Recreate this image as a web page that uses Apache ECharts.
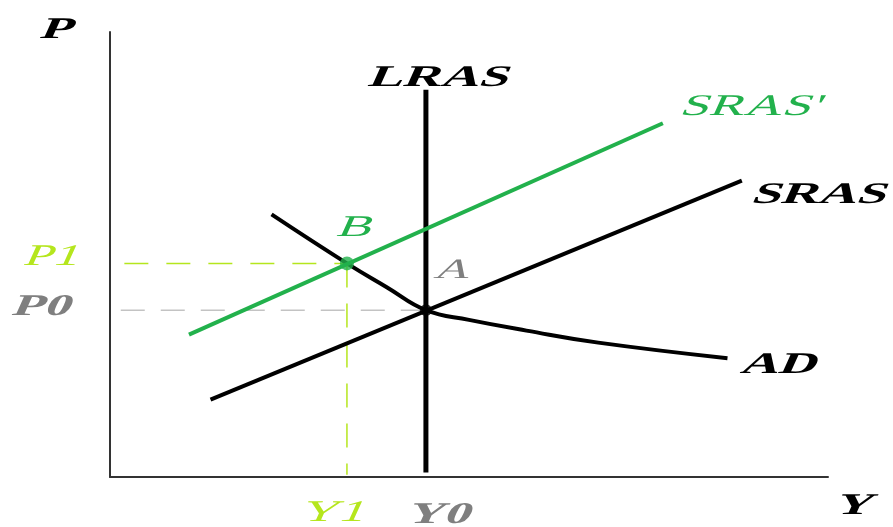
<!DOCTYPE html>
<html>
<head>
<meta charset="utf-8">
<script src="https://cdn.jsdelivr.net/npm/echarts@6/dist/echarts.min.js"></script>
<style>
  html, body { margin: 0; padding: 0; background: #fff; }
  #chart { width: 893px; height: 527px; }
</style>
</head>
<body>
<div id="chart"></div>
<script>
// Equilibrium values
const Y0 = 44, P0 = 37.5;
const Y1 = 33, P1 = 48;

// Curves [output, price level]
const lras = [[Y0, 1], [Y0, 87]];
const sras = [[14, 17.4], [88, 66.6]];
const srasShifted = [[11, 32], [77, 79.5]];
const ad = [[22.5, 59], [33, 48], [38.6, 42.6], [Y0, P0],
            [50, 35.3], [58, 32.9], [68, 30.2], [86, 26.7]];

// Guide lines to the axes
const p1Guide = [[2, P1], [Y1, P1]];
const y1Guide = [[Y1, P1], [Y1, 0.5]];
const p0Guide = [[1.5, P0], [Y0, P0]];

// Text annotations: [x, y] anchor in data space, text
const labelText  = ['P', 'Y', 'LRAS', "SRAS'", 'SRAS', 'AD', 'A', 'B', 'P1', 'P0', 'Y1', 'Y0'];
const labelAt    = [[-7.2, 100.4], [103.8, -6.5], [46, 89.7], [89.5, 83.1], [99, 63.4], [93.4, 25.2],
                    [47.9, 46.3], [34.3, 56], [-7.9, 49.4], [-9.3, 38.2], [31.3, -8.1], [46, -8.5]];

const BLACK = '#000000', GREEN = '#22b14c', LIME = '#b5e61d', GRAY = '#7f7f7f';
const labelStyle = [
  { fill: BLACK, weight: 'bold',   size: 30 },
  { fill: BLACK, weight: 'bold',   size: 30 },
  { fill: BLACK, weight: 'bold',   size: 30 },
  { fill: GREEN, weight: 'normal', size: 30 },
  { fill: BLACK, weight: 'bold',   size: 30 },
  { fill: BLACK, weight: 'bold',   size: 30 },
  { fill: GRAY,  weight: 'normal', size: 28 },
  { fill: GREEN, weight: 'normal', size: 30 },
  { fill: LIME,  weight: 'normal', size: 30 },
  { fill: GRAY,  weight: 'bold',   size: 30 },
  { fill: LIME,  weight: 'normal', size: 30 },
  { fill: GRAY,  weight: 'bold',   size: 30 }
];

// Wide, slanted lettering: x' = 1.75x - 0.45y. Split into rotate * scale * rotate
// (2x2 SVD) so it can be expressed with group/element rotation and scale.
const textMatrix = { a: 1.75, b: -0.45, c: 0, d: 1 };
function decompose(m) {
  const E = (m.a + m.d) / 2, F = (m.a - m.d) / 2;
  const G = (m.c + m.b) / 2, H = (m.c - m.b) / 2;
  const Q = Math.sqrt(E * E + H * H), R = Math.sqrt(F * F + G * G);
  const a1 = Math.atan2(G, F), a2 = Math.atan2(H, E);
  return { sx: Q + R, sy: Q - R, inner: (a2 - a1) / 2, outer: (a2 + a1) / 2 };
}
const slant = decompose(textMatrix);

const chart = echarts.init(document.getElementById('chart'), null, { renderer: 'canvas' });

function lineSeries(data, color, width, type, smooth) {
  return {
    type: 'line', data: data, symbol: 'none', smooth: smooth || false,
    lineStyle: { color: color, width: width, type: type || 'solid', cap: 'butt' },
    silent: true, z: 3
  };
}

chart.setOption({
  animation: false,
  backgroundColor: '#ffffff',
  grid: { left: 110, right: 65, top: 32, bottom: 50 },
  xAxis: {
    type: 'value', min: 0, max: 100,
    axisLine: { show: true, onZero: false, lineStyle: { color: '#333', width: 2 } },
    axisTick: { show: false }, axisLabel: { show: false }, splitLine: { show: false }
  },
  yAxis: {
    type: 'value', min: 0, max: 100,
    axisLine: { show: true, onZero: false, lineStyle: { color: '#333', width: 2 } },
    axisTick: { show: false }, axisLabel: { show: false }, splitLine: { show: false }
  },
  series: [
    Object.assign(lineSeries(p0Guide, '#c3c3c3', 1.5, [24, 16]), { z: 1 }),
    Object.assign(lineSeries(p1Guide, LIME, 1.5, [24, 18]), { z: 1 }),
    Object.assign(lineSeries(y1Guide, LIME, 1.5, [24, 16]), { z: 1 }),
    lineSeries(lras, BLACK, 5),
    lineSeries(sras, BLACK, 4),
    lineSeries(ad, BLACK, 4, 'solid', 0.45),
    lineSeries(srasShifted, GREEN, 4),
    {
      type: 'scatter', silent: true, z: 5,
      data: [
        { value: [Y0, P0], symbolSize: 12, itemStyle: { color: BLACK } },
        { value: [Y1, P1], symbolSize: 14, itemStyle: { color: GREEN } }
      ]
    },
    {
      type: 'custom', silent: true, z: 6, clip: false,
      data: labelAt,
      renderItem: function (params, api) {
        const i = params.dataIndex;
        const p = api.coord([api.value(0), api.value(1)]);
        const s = labelStyle[i];
        return {
          type: 'group',
          x: p[0], y: p[1],
          rotation: -slant.outer,
          scaleX: slant.sx,
          scaleY: slant.sy,
          children: [{
            type: 'text',
            x: 0, y: 0,
            rotation: -slant.inner,
            style: {
              text: labelText[i],
              fontFamily: 'Liberation Serif',
              fontWeight: s.weight,
              fontSize: s.size,
              fill: s.fill,
              align: 'center',
              verticalAlign: 'middle'
            }
          }]
        };
      }
    }
  ]
});
</script>
</body>
</html>
